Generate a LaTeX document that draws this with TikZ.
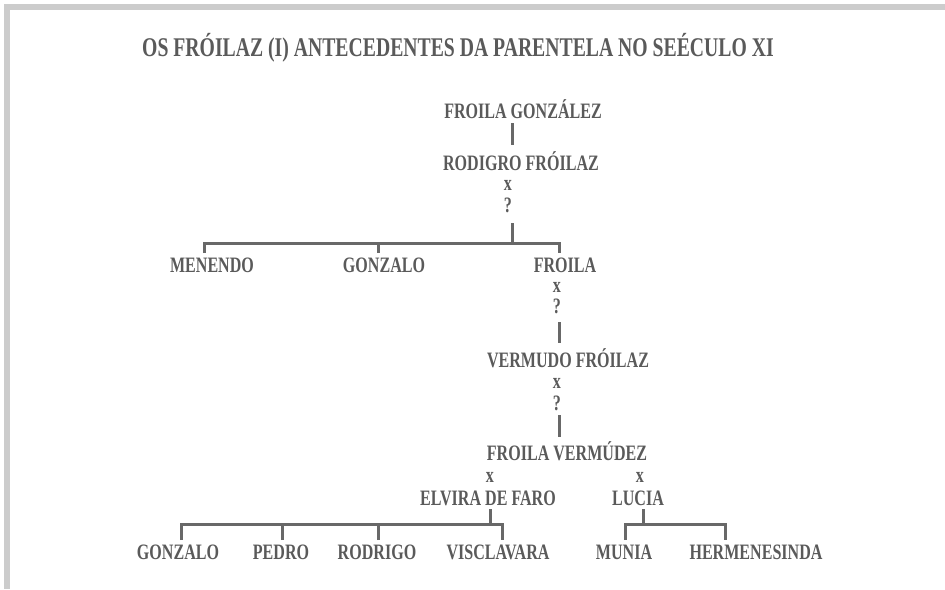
\documentclass[tikz,border=0pt]{standalone}
\usepackage{fontspec}
\setmainfont{Liberation Serif}[FakeStretch=0.73]
\definecolor{txt}{HTML}{5A5A5A}
\definecolor{lin}{HTML}{686868}
\definecolor{frm}{HTML}{CCCCCC}
\begin{document}
\begin{tikzpicture}[x=1pt,y=-1pt,
  lbl/.style={anchor=base, inner sep=0pt, text=txt, font=\fontsize{22}{22}\selectfont\bfseries},
  ttl/.style={anchor=base, inner sep=0pt, text=txt, font=\fontsize{27}{27}\selectfont\bfseries},
  conn/.style={draw=lin, line width=3pt, line join=miter}]
\useasboundingbox (0,0) rectangle (945,589);
% frame bands
\fill[frm] (4,4) rectangle (945,10);
\fill[frm] (4,4) rectangle (10,589);
% title
\node[ttl] (title) at (458,56) {OS FRÓILAZ (I) ANTECEDENTES DA PARENTELA NO SEÉCULO XI};
% nodes
\node[lbl] (fg) at (523,118) {FROILA GONZÁLEZ};
\node[lbl] (rf) at (521,170) {RODIGRO FRÓILAZ};
\node[lbl] (x1) at (508,190) {x};
\node[lbl] (q1) at (508,212) {?};
\node[lbl] (men) at (212,272) {MENENDO};
\node[lbl] (gon1) at (384,272) {GONZALO};
\node[lbl] (fr) at (565,272) {FROILA};
\node[lbl] (x2) at (557,292) {x};
\node[lbl] (q2) at (557,313) {?};
\node[lbl] (vf) at (568,367) {VERMUDO FRÓILAZ};
\node[lbl] (x3) at (557,388) {x};
\node[lbl] (q3) at (557,410) {?};
\node[lbl] (fv) at (567,460) {FROILA VERMÚDEZ};
\node[lbl] (x4) at (490,482) {x};
\node[lbl] (x5) at (640,482) {x};
\node[lbl] (el) at (488,505) {ELVIRA DE FARO};
\node[lbl] (lu) at (638,505) {LUCIA};
\node[lbl] (gon2) at (178,559) {GONZALO};
\node[lbl] (ped) at (281,559) {PEDRO};
\node[lbl] (rod) at (377,559) {RODRIGO};
\node[lbl] (vis) at (498,559) {VISCLAVARA};
\node[lbl] (mun) at (624,559) {MUNIA};
\node[lbl] (her) at (756,559) {HERMENESINDA};
% connector end points
\coordinate (fgd) at (512,123);
\coordinate (rfu) at (512,145);
\coordinate (q1d) at (512,223);
\coordinate (b1) at (512,243);
\coordinate (menu) at (204,253);
\coordinate (gon1u) at (378,253);
\coordinate (fru) at (559,253);
\coordinate (q2d) at (559,322);
\coordinate (vfu) at (559,343);
\coordinate (q3d) at (559,415);
\coordinate (fvu) at (559,437);
\coordinate (eld) at (490,509);
\coordinate (b2) at (490,524);
\coordinate (gon2u) at (181,540);
\coordinate (pedu) at (282,540);
\coordinate (rodu) at (378,540);
\coordinate (visu) at (502,540);
\coordinate (lud) at (643,509);
\coordinate (b3) at (643,524);
\coordinate (munu) at (625,540);
\coordinate (heru) at (725,540);
% connectors
\draw[conn] (fgd) -- (rfu);
\draw[conn] (q1d) -- (b1);
\draw[conn] (menu) -- (menu |- b1) -- (fru |- b1) -- (fru);
\draw[conn] (gon1u) -- (gon1u |- b1);
\draw[conn] (q2d) -- (vfu);
\draw[conn] (q3d) -- (fvu);
\draw[conn] (eld) -- (b2);
\draw[conn] (gon2u) -- (gon2u |- b2) -- (visu |- b2) -- (visu);
\draw[conn] (pedu) -- (pedu |- b2);
\draw[conn] (rodu) -- (rodu |- b2);
\draw[conn] (lud) -- (b3);
\draw[conn] (munu) -- (munu |- b3) -- (heru |- b3) -- (heru);
\end{tikzpicture}
\end{document}
